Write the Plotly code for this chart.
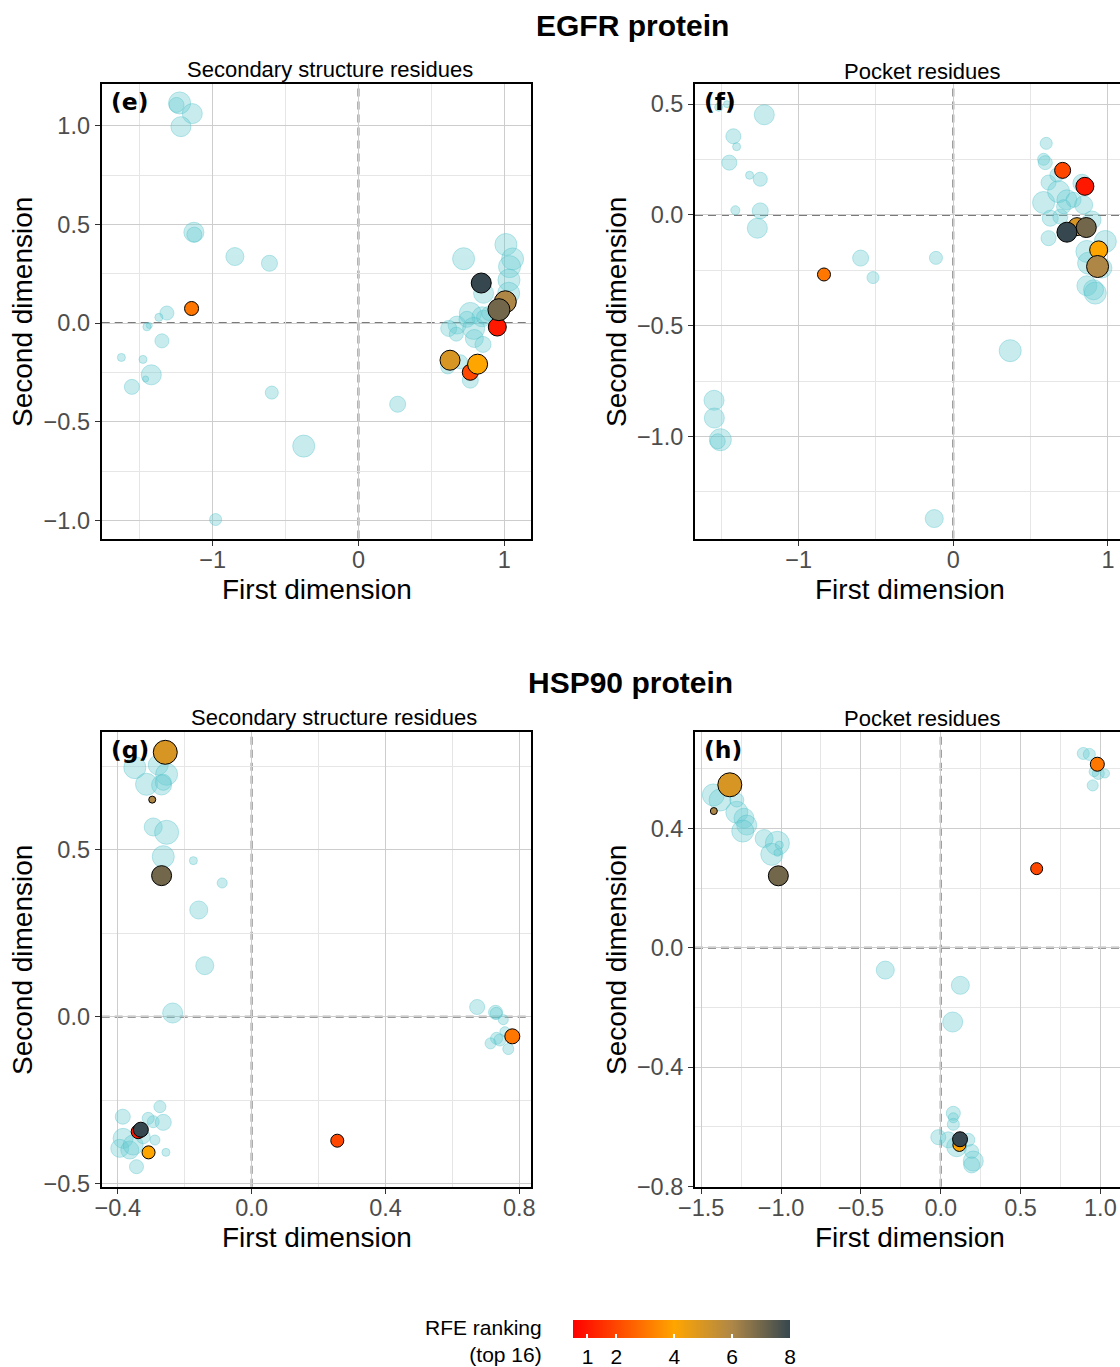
import plotly.graph_objects as go

W, H = 1120, 1367

# ---------------- data (first / second dimension, importance, RFE rank) ----------------
# Panel (e) EGFR - secondary structure residues
e_bg_x = [-1.226, -1.247, -1.139, -1.217, -1.128, -1.125, -0.847, -0.610, -1.313, -1.368, -1.434, -1.450,
          -1.347, -1.625, -1.477, -1.420, -1.459, -1.553, -0.594, -0.375, -0.979, 0.269, 0.721, 1.011,
          1.057, 1.036, 1.032, 1.030, 0.858, 0.767, 0.847, 0.676, 0.619, 0.671, 0.744, 0.790, 0.795,
          0.854, 0.858, 0.612, 0.767, 0.699, 0.893]
e_bg_y = [1.115, 1.105, 1.061, 0.995, 0.460, 0.448, 0.337, 0.303, 0.051, 0.029, -0.012, -0.019,
          -0.090, -0.174, -0.184, -0.262, -0.283, -0.323, -0.352, -0.623, -0.995, -0.411, 0.326, 0.398,
          0.325, 0.286, 0.218, 0.151, 0.151, 0.049, 0.032, -0.010, -0.027, -0.056, 0.019, -0.027, -0.078,
          -0.108, 0.030, -0.222, -0.289, -0.196, 0.049]
e_bg_imp = [2.2, 1.5, 2.0, 2.0, 2.0, 1.5, 1.8, 1.6, 1.4, 0.8, 0.6, 0.8,
            1.4, 0.8, 0.8, 2.0, 0.6, 1.5, 1.3, 2.2, 1.2, 1.6, 2.2, 2.2,
            2.2, 2.2, 2.2, 2.2, 2.0, 2.2, 2.0, 1.8, 1.6, 1.4, 1.6, 2.2, 1.8,
            1.6, 1.4, 1.4, 1.6, 1.4, 1.4]
e_hl_x = [-1.144, 0.842, 1.007, 0.963, 0.952, 0.628, 0.767, 0.817]
e_hl_y = [0.074, 0.203, 0.108, 0.068, -0.020, -0.188, -0.249, -0.208]
e_hl_rank = [3, 8, 6, 7, 1, 5, 2, 4]
e_hl_imp = [1.4, 2.0, 2.2, 2.2, 1.8, 2.0, 1.6, 2.0]

# Panel (f) EGFR - pocket residues
f_bg_x = [-1.517, -1.463, -1.222, -1.422, -1.401, -1.448, -1.317, -1.248, -1.409, -1.248, -1.267, -0.599,
          -0.519, -0.112, 0.368, -1.547, -1.545, -1.506, -1.523, -0.123, 0.601, 0.584, 0.595, 0.616,
          0.584, 0.681, 0.735, 0.778, 0.832, 0.843, 0.627, 0.692, 0.897, 0.616, 0.983, 0.864, 0.875,
          0.961, 0.864, 0.918, 0.907, 0.670, 0.713]
f_bg_y = [0.486, 0.500, 0.452, 0.355, 0.308, 0.236, 0.179, 0.161, 0.021, 0.018, -0.060, -0.195,
          -0.283, -0.194, -0.613, -0.837, -0.917, -1.015, -1.022, -1.371, 0.323, 0.251, 0.236, 0.146,
          0.056, 0.105, 0.068, 0.068, 0.143, 0.045, -0.015, -0.008, -0.023, -0.105, -0.120, -0.165, -0.218,
          -0.240, -0.320, -0.353, -0.338, 0.180, 0.037]
f_bg_imp = [0.8, 0.7, 2.0, 1.5, 0.8, 1.5, 0.8, 1.4, 0.9, 1.6, 2.0, 1.6,
            1.2, 1.3, 2.2, 2.0, 2.0, 2.2, 1.5, 1.8, 1.2, 1.2, 1.4, 1.5,
            2.2, 2.2, 2.0, 1.5, 1.8, 1.8, 1.6, 1.5, 1.8, 1.5, 2.2, 2.2, 2.2,
            2.0, 2.0, 2.2, 2.0, 1.4, 1.4]
f_hl_x = [-0.836, 0.707, 0.851, 0.800, 0.735, 0.860, 0.940, 0.933]
f_hl_y = [-0.269, 0.201, 0.129, -0.053, -0.078, -0.057, -0.158, -0.233]
f_hl_rank = [3, 2, 1, 5, 8, 7, 4, 6]
f_hl_imp = [1.3, 1.6, 1.8, 1.8, 2.0, 2.0, 1.8, 2.2]

# Panel (g) HSP90 - secondary structure residues
g_bg_x = [-0.349, -0.314, -0.279, -0.254, -0.269, -0.264, -0.294, -0.254, -0.264, -0.174, -0.088, -0.158,
          -0.140, -0.236, 0.674, 0.729, 0.731, 0.752, 0.732, 0.714, 0.742, 0.767, 0.757, -0.385,
          -0.274, -0.294, -0.264, -0.309, -0.384, -0.394, -0.364, -0.344, -0.354, -0.289, -0.256, -0.324]
g_bg_y = [0.747, 0.697, 0.755, 0.727, 0.695, 0.703, 0.569, 0.553, 0.480, 0.468, 0.401, 0.320,
          0.153, 0.011, 0.029, 0.013, 0.010, -0.009, -0.065, -0.080, -0.070, -0.097, -0.045, -0.300,
          -0.270, -0.315, -0.317, -0.305, -0.365, -0.395, -0.400, -0.450, -0.385, -0.370, -0.407, -0.360]
g_bg_imp = [2.2, 2.2, 2.0, 2.2, 2.0, 1.6, 1.8, 2.4, 2.2, 0.8, 1.0, 1.8,
            1.8, 2.0, 1.5, 1.4, 1.2, 1.0, 1.2, 1.1, 1.2, 1.1, 1.0, 1.5,
            1.2, 1.2, 1.6, 1.2, 2.0, 1.8, 1.8, 1.4, 2.0, 1.0, 0.8, 1.4]
g_hl_x = [-0.258, -0.297, -0.269, -0.339, -0.331, -0.308, 0.256, 0.779]
g_hl_y = [0.793, 0.651, 0.423, -0.345, -0.339, -0.407, -0.372, -0.059]
g_hl_rank = [5, 6, 7, 1, 8, 4, 2, 3]
g_hl_imp = [2.4, 0.7, 2.0, 1.4, 1.5, 1.3, 1.3, 1.5]

# Panel (h) HSP90 - pocket residues
h_bg_x = [-1.424, -1.382, -1.277, -1.232, -1.215, -1.240, -1.277, -1.106, -1.023, -1.058, -1.011, -1.023,
          0.893, 0.931, 0.987, 1.029, 0.952, 0.961, -0.347, 0.123, 0.075, 0.079, 0.079, -0.015,
          0.048, 0.100, 0.173, 0.194, 0.204, 0.194, 0.079]
h_bg_y = [0.512, 0.495, 0.454, 0.434, 0.411, 0.391, 0.495, 0.366, 0.350, 0.313, 0.344, 0.318,
          0.651, 0.648, 0.584, 0.584, 0.544, 0.590, -0.075, -0.126, -0.249, -0.555, -0.592, -0.635,
          -0.644, -0.667, -0.644, -0.683, -0.715, -0.728, -0.570]
h_bg_imp = [2.2, 2.2, 2.2, 2.0, 2.0, 2.2, 1.4, 1.8, 2.4, 2.2, 0.8, 0.7,
            1.2, 1.2, 1.2, 0.9, 1.1, 1.0, 1.8, 1.8, 2.0, 1.4, 1.2, 1.5,
            1.6, 2.0, 1.3, 1.4, 2.0, 1.6, 1.0]
h_hl_x = [-1.321, -1.421, -1.017, 0.981, 0.601, 0.117, 0.121]
h_hl_y = [0.546, 0.458, 0.241, 0.615, 0.265, -0.661, -0.642]
h_hl_rank = [5, 6, 7, 3, 2, 4, 8]
h_hl_imp = [2.4, 0.7, 2.0, 1.4, 1.2, 1.3, 1.5]

cb_ticks = [1, 2, 4, 6, 8]

# ---------------- styling ----------------
FONT = "Liberation Sans, Arial, Helvetica, sans-serif"
BG_FILL = "rgba(101,203,209,0.5)"
BG_LINE = "rgba(70,190,198,0.55)"
SIZE_SCALE = 10  # px diameter per importance unit
COLORSCALE = [[0.0, "#FF0000"], [0.467, "#FFA500"], [0.733, "#AE8747"], [1.0, "#36474F"]]
CMIN, CMAX = 0.5, 8
GRID_MAJOR = "#CDCDCD"
GRID_MINOR = "#E6E6E6"


def pxx(p):
    return p / W


def pxy(p):
    return 1 - p / H


panels = [
    dict(name="e", ax="", bg=(e_bg_x, e_bg_y, e_bg_imp), hl=(e_hl_x, e_hl_y, e_hl_rank, e_hl_imp),
         dx=(101.7, 530.7), dy=(84, 538.5), rx=[-1.760, 1.181], ry=[-1.091, 1.211],
         xd=1, xm=0.5, yd=0.5, ym=0.25, xf="d", yf=".1f", full=True),
    dict(name="f", ax="2", bg=(f_bg_x, f_bg_y, f_bg_imp), hl=(f_hl_x, f_hl_y, f_hl_rank, f_hl_imp),
         dx=(695, 1120), dy=(84, 538.5), rx=[-1.670, 1.078], ry=[-1.461, 0.591],
         xd=1, xm=0.5, yd=0.5, ym=0.25, xf="d", yf=".1f", full=False),
    dict(name="g", ax="3", bg=(g_bg_x, g_bg_y, g_bg_imp), hl=(g_hl_x, g_hl_y, g_hl_rank, g_hl_imp),
         dx=(101.7, 530.7), dy=(732.3, 1186.7), rx=[-0.448, 0.834], ry=[-0.510, 0.853],
         xd=0.4, xm=0.2, yd=0.5, ym=0.25, xf=".1f", yf=".1f", full=True),
    dict(name="h", ax="4", bg=(h_bg_x, h_bg_y, h_bg_imp), hl=(h_hl_x, h_hl_y, h_hl_rank, h_hl_imp),
         dx=(695, 1120), dy=(732.3, 1186.7), rx=[-1.539, 1.123], ry=[-0.801, 0.722],
         xd=0.5, xm=0.25, yd=0.4, ym=0.2, xf=".1f", yf=".1f", full=False),
]

fig = go.Figure()
layout = dict(
    width=W, height=H, margin=dict(l=0, r=0, t=0, b=0, pad=0, autoexpand=False),
    paper_bgcolor="white", plot_bgcolor="white",
    font=dict(family=FONT, color="black"), showlegend=False,
)
shapes = []
annotations = []

for i, p in enumerate(panels):
    xa, ya = "x" + p["ax"], "y" + p["ax"]
    bx, by, bimp = p["bg"]
    fig.add_trace(go.Scatter(
        x=bx, y=by, mode="markers", xaxis=xa, yaxis=ya, hoverinfo="x+y",
        marker=dict(size=bimp, sizemode="diameter", sizeref=1 / SIZE_SCALE,
                    color=BG_FILL, line=dict(color=BG_LINE, width=1)),
    ))
    hx, hy, hr, himp = p["hl"]
    order = sorted(range(len(hr)), key=lambda k: hr[k])
    fig.add_trace(go.Scatter(
        x=[hx[k] for k in order], y=[hy[k] for k in order], mode="markers",
        xaxis=xa, yaxis=ya,
        marker=dict(size=[himp[k] for k in order], sizemode="diameter", sizeref=1 / SIZE_SCALE,
                    color=[hr[k] for k in order], colorscale=COLORSCALE, cmin=CMIN, cmax=CMAX,
                    line=dict(color="black", width=1), opacity=1,
                    showscale=(i == 3),
                    colorbar=dict(orientation="h", len=217, lenmode="pixels", thickness=18,
                                  x=pxx(681.5), xanchor="center", y=pxy(1320), yanchor="top",
                                  ypad=0, xpad=0, outlinewidth=0,
                                  tickvals=cb_ticks, ticks="inside", ticklen=4,
                                  tickcolor="white", tickwidth=2,
                                  tickfont=dict(size=21, color="black", family=FONT))),
    ))

    axis_common = dict(showline=True, linecolor="black", linewidth=2,
                       ticks="outside", ticklen=5, tickcolor="#333333", tickwidth=1,
                       tickfont=dict(size=23.5, color="#4D4D4D", family=FONT),
                       showgrid=True, gridcolor=GRID_MAJOR, gridwidth=1, zeroline=False,
                       fixedrange=True, automargin=False)
    layout["xaxis" + p["ax"]] = dict(
        axis_common, domain=[pxx(p["dx"][0]), pxx(p["dx"][1])], range=p["rx"], anchor=ya,
        dtick=p["xd"], tick0=0, tickformat=p["xf"], mirror=True, ticklabelstandoff=-6,
        minor=dict(dtick=p["xm"], tick0=0, showgrid=True, gridcolor=GRID_MINOR, gridwidth=1))
    layout["yaxis" + p["ax"]] = dict(
        axis_common, domain=[pxy(p["dy"][1]), pxy(p["dy"][0])], range=p["ry"], anchor=xa,
        dtick=p["yd"], tick0=0, tickformat=p["yf"], mirror=p["full"],
        minor=dict(dtick=p["ym"], tick0=0, showgrid=True, gridcolor=GRID_MINOR, gridwidth=1))

    # dashed reference lines at zero
    shapes.append(dict(type="line", xref=xa, yref=ya + " domain", x0=0, x1=0, y0=0, y1=1,
                       line=dict(color="#7A7A7A", width=2, dash="8px,5px"), layer="below"))
    shapes.append(dict(type="line", xref=xa + " domain", yref=ya, x0=0, x1=1, y0=0, y1=0,
                       line=dict(color="#7A7A7A", width=2, dash="8px,5px"), layer="below"))

    # panel letter
    annotations.append(dict(text="<b>(%s)</b>" % p["name"], xref="paper", yref="paper",
                            x=pxx(p["dx"][0] + 7), y=pxy(p["dy"][0] + 18), xanchor="left",
                            yanchor="middle", showarrow=False,
                            font=dict(family="DejaVu Sans", size=23.5, color="black")))

# axis titles
for cx, cy in [(316.5, 589), (910, 589), (316.5, 1237), (910, 1237)]:
    annotations.append(dict(text="First dimension", xref="paper", yref="paper", x=pxx(cx), y=pxy(cy),
                            xanchor="center", yanchor="middle", showarrow=False,
                            font=dict(size=28, color="black", family=FONT)))
for cx, cy in [(22, 312), (616, 312), (22, 960), (616, 960)]:
    annotations.append(dict(text="Second dimension", xref="paper", yref="paper", x=pxx(cx), y=pxy(cy),
                            xanchor="center", yanchor="middle", showarrow=False, textangle=-90,
                            font=dict(size=28, color="black", family=FONT)))
# subplot titles
for txt, cx, cy in [("Secondary structure residues", 330, 69), ("Pocket residues", 922, 71),
                    ("Secondary structure residues", 334, 717), ("Pocket residues", 922, 719)]:
    annotations.append(dict(text=txt, xref="paper", yref="paper", x=pxx(cx), y=pxy(cy),
                            xanchor="center", yanchor="middle", showarrow=False,
                            font=dict(size=22, color="black", family=FONT)))
# protein titles
for txt, cx, cy in [("EGFR protein", 632, 25), ("HSP90 protein", 630, 683)]:
    annotations.append(dict(text="<b>%s</b>" % txt, xref="paper", yref="paper", x=pxx(cx), y=pxy(cy),
                            xanchor="center", yanchor="middle", showarrow=False,
                            font=dict(size=30, color="black", family=FONT)))
# colorbar title
annotations.append(dict(text="RFE ranking<br>(top 16)", xref="paper", yref="paper",
                        x=pxx(544), y=pxy(1341), xanchor="right", yanchor="middle", align="right",
                        showarrow=False, font=dict(size=21, color="black", family=FONT)))

layout["shapes"] = shapes
layout["annotations"] = annotations
fig.update_layout(**layout)
fig.write_html("out.html")
